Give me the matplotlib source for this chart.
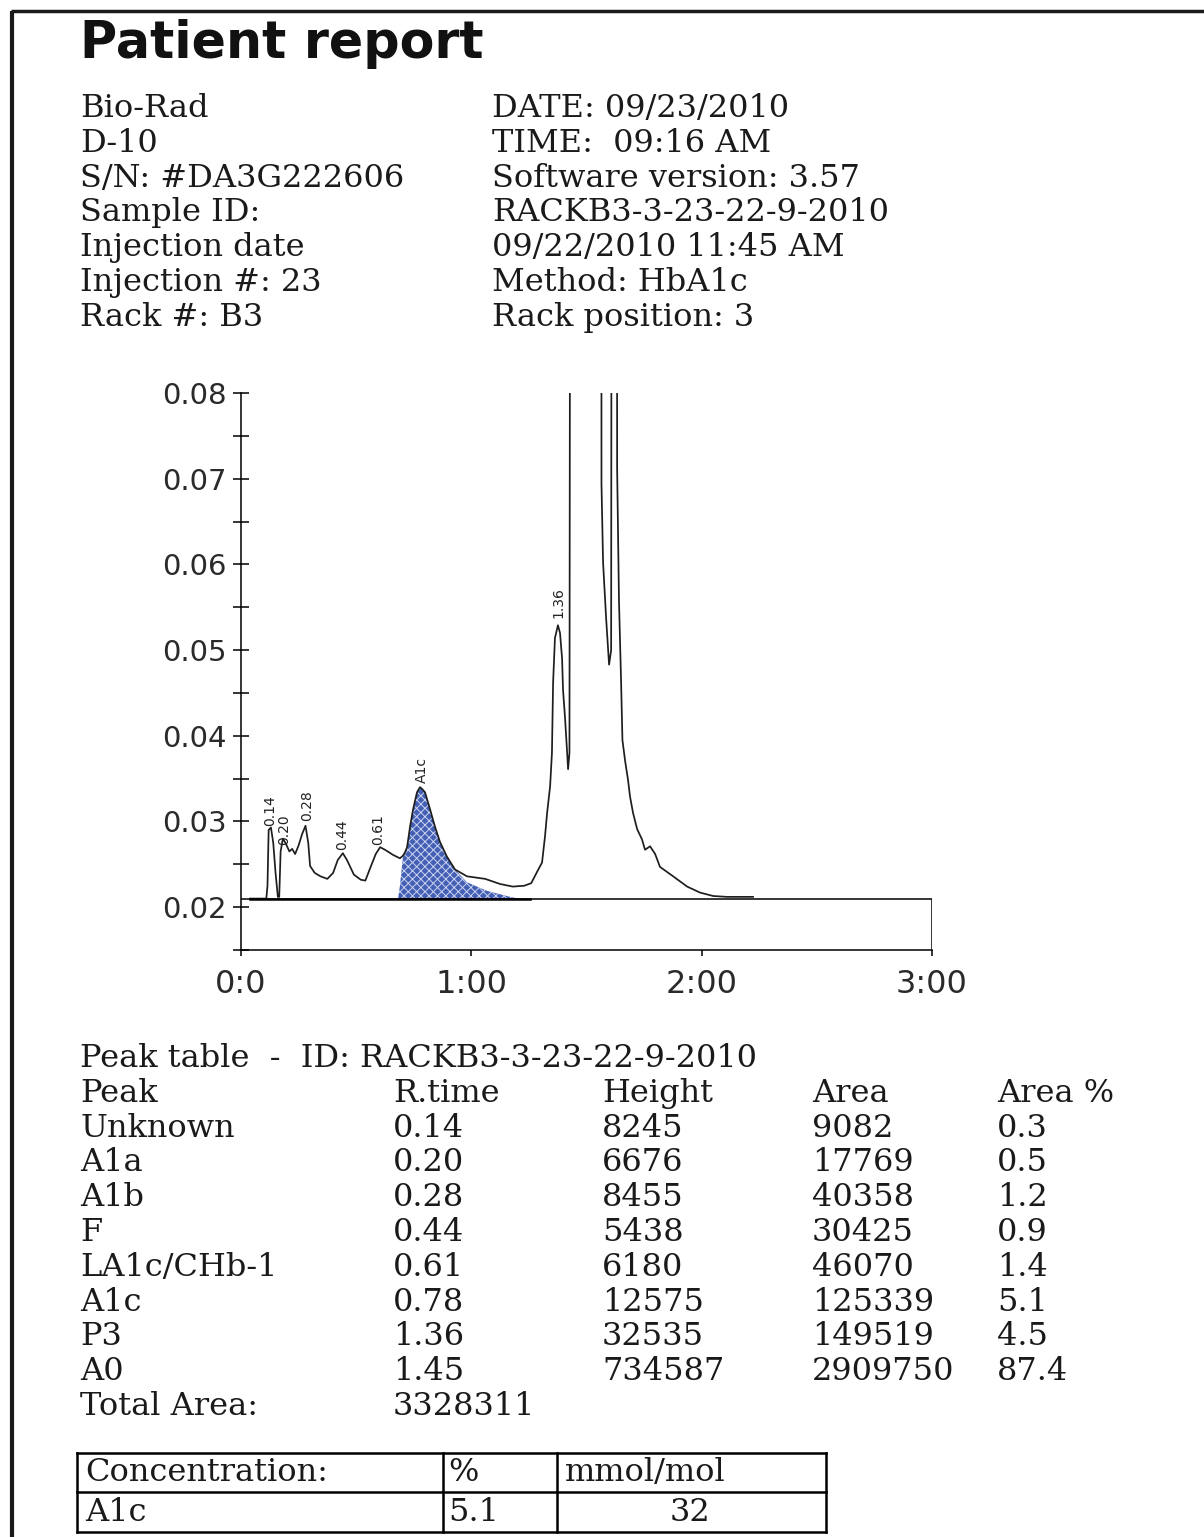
import numpy as np
import matplotlib.pyplot as plt

W, H = 1204, 1537

# header block
left_info = ["Bio-Rad", "D-10", "S/N: #DA3G222606", "Sample ID:",
             "Injection date", "Injection #: 23", "Rack #: B3"]
right_info = ["DATE: 09/23/2010", "TIME:  09:16 AM", "Software version: 3.57",
              "RACKB3-3-23-22-9-2010", "09/22/2010 11:45 AM", "Method: HbA1c",
              "Rack position: 3"]

# chromatogram trace (time in min, absorbance)
trace_t = [0.039, 0.110, 0.115, 0.120, 0.130, 0.140, 0.150, 0.160, 0.166, 0.172,
           0.182, 0.195, 0.210, 0.222, 0.235, 0.250, 0.265, 0.280, 0.292, 0.300,
           0.320, 0.345, 0.375, 0.400, 0.420, 0.442, 0.460, 0.490, 0.520, 0.540,
           0.560, 0.585, 0.604, 0.625, 0.660, 0.690, 0.703, 0.712, 0.721, 0.734,
           0.747, 0.764, 0.777, 0.786, 0.799, 0.821, 0.842, 0.864, 0.894, 0.929,
           0.981, 1.060, 1.125, 1.180, 1.230, 1.260, 1.285, 1.307, 1.320, 1.329,
           1.342, 1.350, 1.355, 1.363, 1.376, 1.385, 1.394, 1.398, 1.407, 1.416,
           1.420, 1.426, 1.437, 1.563, 1.565, 1.572, 1.585, 1.598, 1.607, 1.615,
           1.628, 1.633, 1.641, 1.650, 1.656, 1.668, 1.680, 1.689, 1.702, 1.720,
           1.741, 1.754, 1.776, 1.798, 1.819, 1.876, 1.937, 1.993, 2.050, 2.110,
           2.223]
trace_y = [0.0210, 0.0210, 0.0225, 0.0290, 0.0293, 0.0275, 0.0240, 0.0212, 0.0212, 0.0265,
           0.0280, 0.0274, 0.0265, 0.0268, 0.0262, 0.0272, 0.0285, 0.0295, 0.0275, 0.0248,
           0.0240, 0.0236, 0.0233, 0.0240, 0.0255, 0.0263, 0.0255, 0.0238, 0.0232, 0.0231,
           0.0245, 0.0262, 0.0270, 0.0267, 0.0261, 0.0257, 0.0260, 0.0264, 0.0270, 0.0294,
           0.0314, 0.0334, 0.0340, 0.0338, 0.0334, 0.0314, 0.0294, 0.0276, 0.0259, 0.0244,
           0.0236, 0.0233, 0.0227, 0.0224, 0.0225, 0.0228, 0.0241, 0.0252, 0.0283, 0.0310,
           0.0341, 0.0380, 0.0462, 0.0514, 0.0529, 0.0520, 0.0490, 0.0454, 0.0420, 0.0380,
           0.0361, 0.0380, 0.3000, 0.3000, 0.0694, 0.0602, 0.0538, 0.0483, 0.0500, 0.3000,
           0.3000, 0.0712, 0.0558, 0.0465, 0.0395, 0.0370, 0.0349, 0.0329, 0.0310, 0.0291,
           0.0279, 0.0267, 0.0271, 0.0262, 0.0247, 0.0236, 0.0224, 0.0217, 0.0213, 0.0212,
           0.0212]

# integrated A1c peak (shaded)
a1c_t = [0.682, 0.690, 0.703, 0.712, 0.721, 0.734, 0.747, 0.764, 0.777, 0.786,
         0.799, 0.821, 0.842, 0.864, 0.894, 0.929, 0.981, 1.068, 1.168, 1.224]
a1c_y = [0.0210, 0.0225, 0.0258, 0.0264, 0.0270, 0.0294, 0.0314, 0.0334, 0.0340, 0.0338,
         0.0334, 0.0314, 0.0294, 0.0276, 0.0259, 0.0244, 0.0229, 0.0219, 0.0212, 0.0209]
base_level = 0.0209
baseline_t = [0.039, 1.255]

# peak labels on the chart
peak_labels = ["0.14", "0.20", "0.28", "0.44", "0.61", "A1c", "1.36"]
label_t = [0.126, 0.187, 0.287, 0.439, 0.595, 0.786, 1.376]
label_y = [0.0295, 0.0273, 0.0300, 0.0267, 0.0273, 0.0345, 0.0537]

y_major = [0.02, 0.03, 0.04, 0.05, 0.06, 0.07, 0.08]
y_minor = [0.015, 0.025, 0.035, 0.045, 0.055, 0.065, 0.075]
x_ticks = [0, 1, 2, 3]
x_ticklabels = ["0:0", "1:00", "2:00", "3:00"]

# peak table
peak_names = ["Unknown", "A1a", "A1b", "F", "LA1c/CHb-1", "A1c", "P3", "A0"]
peak_rtime = ["0.14", "0.20", "0.28", "0.44", "0.61", "0.78", "1.36", "1.45"]
peak_height = [8245, 6676, 8455, 5438, 6180, 12575, 32535, 734587]
peak_area = [9082, 17769, 40358, 30425, 46070, 125339, 149519, 2909750]
peak_area_pct = ["0.3", "0.5", "1.2", "0.9", "1.4", "5.1", "4.5", "87.4"]
total_area = 3328311
sample_id = "RACKB3-3-23-22-9-2010"

# concentration
conc_pct = "5.1"
conc_mmol = "32"

plt.rcParams['hatch.linewidth'] = 0.7

fig = plt.figure(figsize=(W / 100, H / 100), dpi=100)

# page layer in pixel coordinates
bg = fig.add_axes([0, 0, 1, 1])
bg.set_xlim(0, W)
bg.set_ylim(H, 0)
bg.axis('off')

serif = dict(family='DejaVu Serif', fontsize=23, color='#1a1a1a', va='baseline')
step = 34.8

# page border (top and left)
bg.plot([11, W], [11, 11], color='#1a1a1a', lw=2.5, solid_capstyle='butt')
bg.plot([12, 12], [11, H], color='#1a1a1a', lw=3.0, solid_capstyle='butt')

bg.text(80, 58, "Patient report", family='DejaVu Sans', fontweight='bold',
        fontsize=36.5, color='#111111', va='baseline')

for i, (l, r) in enumerate(zip(left_info, right_info)):
    y = 117 + i * step
    bg.text(80, y, l, **serif)
    bg.text(492, y, r, **serif)

# peak table
bg.text(80, 1067, "Peak table  -  ID: " + sample_id, **serif)
cols = [80, 393, 602, 812, 997]
for x, h in zip(cols, ["Peak", "R.time", "Height", "Area", "Area %"]):
    bg.text(x, 1067 + step, h, **serif)
for i in range(len(peak_names)):
    y = 1067 + (i + 2) * step
    row = [peak_names[i], peak_rtime[i], str(peak_height[i]), str(peak_area[i]), peak_area_pct[i]]
    for x, v in zip(cols, row):
        bg.text(x, y, v, **serif)
bg.text(80, 1067 + 10 * step, "Total Area:", **serif)
bg.text(393, 1067 + 10 * step, str(total_area), **serif)

# concentration table
tk = dict(color='black', lw=1.8, solid_capstyle='projecting')
for y in [1453, 1492, 1532]:
    bg.plot([77, 826], [y, y], **tk)
for x in [77, 443, 557, 826]:
    bg.plot([x, x], [1453, 1532], **tk)
bg.text(85, 1481, "Concentration:", **serif)
bg.text(448, 1481, "%", **serif)
bg.text(565, 1481, "mmol/mol", **serif)
bg.text(85, 1521, "A1c", **serif)
bg.text(448, 1521, conc_pct, **serif)
bg.text(690, 1521, conc_mmol, ha='center', **serif)

# chromatogram
ax = fig.add_axes([241 / W, (H - 950) / H, 691 / W, (950 - 393) / H])
ax.set_xlim(0, 3)
ax.set_ylim(0.0151, 0.080)
ax.patch.set_alpha(0)

ax.fill_between(a1c_t, base_level, a1c_y, facecolor='#4360b4', edgecolor='#c9d2ee',
                hatch='xxxx', linewidth=0, zorder=2)
ax.plot(trace_t, trace_y, color='#1e1e1e', lw=1.25, zorder=3)
ax.plot(baseline_t, [base_level + 0.0001] * 2, color='black', lw=1.8, zorder=3)
# frame box under the trace
ax.plot([0, 3, 3], [base_level, base_level, 0.0151], color='black', lw=1.1, zorder=2)

for s, t, y in zip(peak_labels, label_t, label_y):
    ax.text(t, y, s, rotation=90, ha='center', va='bottom', fontsize=10,
            family='DejaVu Sans', color='#222222')

for sp in ['top', 'right']:
    ax.spines[sp].set_visible(False)
for sp in ['left', 'bottom']:
    ax.spines[sp].set_linewidth(1.1)

ax.set_yticks(y_major)
ax.set_yticklabels(["%.2f" % v for v in y_major])
ax.set_yticks(y_minor, minor=True)
ax.set_xticks(x_ticks)
ax.set_xticklabels(x_ticklabels)
ax.tick_params(axis='y', which='both', direction='inout', length=12, width=1.1,
               labelsize=21, labelcolor='#2a2a2a', pad=4)
ax.tick_params(axis='x', direction='out', length=4, width=1.1,
               labelsize=23, labelcolor='#2a2a2a', pad=10)
for lab in ax.get_xticklabels() + ax.get_yticklabels():
    lab.set_family('DejaVu Sans')

fig.savefig("out.png", dpi=100)
